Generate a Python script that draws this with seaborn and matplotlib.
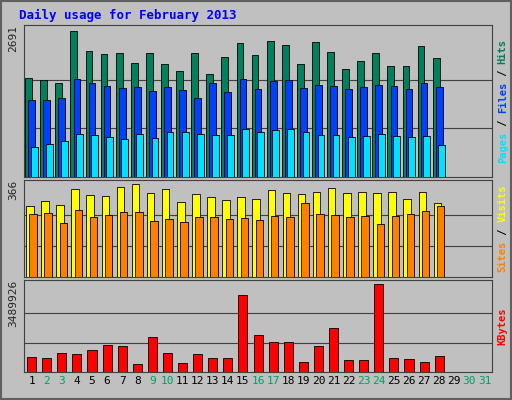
import matplotlib
matplotlib.use("Agg")
import matplotlib.pyplot as plt
import seaborn as sns
import numpy as np

sns.set_style("white")
plt.rcParams['font.family'] = ['DejaVu Sans Mono', 'DejaVu Sans']

days = list(range(1, 32))
data_days = list(range(1, 29))
weekend = [2, 3, 9, 10, 16, 17, 23, 24, 30, 31]
hits = [1825,1788,1731,2691,2315,2258,2277,2108,2277,2089,1957,2277,1901,2202,2465,2240,2503,2428,2089,2484,2296,1995,2127,2277,2051,2051,2409,2183]
files = [1412,1412,1449,1807,1731,1675,1637,1656,1581,1656,1600,1449,1731,1562,1807,1619,1769,1788,1637,1694,1675,1619,1656,1694,1675,1619,1731,1656]
pages = [546,602,659,790,772,734,696,790,715,828,828,790,772,772,885,828,866,885,828,772,772,734,753,790,753,734,753,583]
visits = [277,297,281,346,321,317,354,366,329,346,293,325,313,301,313,305,342,329,325,333,350,329,333,329,333,305,333,289]
sites = [248,252,211,264,236,244,256,256,220,228,216,236,236,228,232,224,240,236,289,248,244,236,240,207,240,248,260,277]
kbytes = [594870,555212,753502,713844,872476,1070766,1031108,317264,1388030,753502,356922,713844,555212,555212,3053666,1467346,1189740,1189740,396580,1031108,1744952,475896,475896,3489926,555212,515554,396580,634528]

BG = '#c0c0c0'
fig = plt.figure(figsize=(5.12, 4.0), dpi=100, facecolor=BG)
fig.add_artist(plt.Rectangle((0.002, 0.002), 0.996, 0.996, transform=fig.transFigure,
                             fill=False, edgecolor='#606060', lw=1.5))
fig.text(0.037, 0.962, "Daily usage for February 2013", color='#0000ff',
         fontsize=9, fontweight='bold', va='center')

panels = [
    (0.5575, 0.38, [(hits, '#00805c', -0.2), (files, '#0040ff', 0.0), (pages, '#00e0ff', 0.17)],
     max(hits), [("Pages", '#00e0ff'), ("Files", '#0040ff'), ("Hits", '#00805c')], 0.45),
    (0.3075, 0.2425, [(visits, '#ffff00', -0.12), (sites, '#ff8000', 0.1)],
     max(visits), [("Sites", '#ff8000'), ("Visits", '#ffff00')], 0.5),
    (0.07, 0.23, [(kbytes, '#ff0000', 0.0)], max(kbytes), [("KBytes", '#ff0000')], 0.6),
]
x = np.array(data_days, dtype=float)
axes = []
for bottom, h, series, mx, labels, w in panels:
    ax = fig.add_axes([0.047, bottom, 0.914, h])
    ax.set_facecolor(BG)
    for vals, col, off in series:
        ax.bar(x + off, vals, width=w, color=col, edgecolor='black', linewidth=0.6, zorder=3)
    ax.set_xlim(0.5, 31.5)
    ax.set_ylim(0, mx * 1.04)
    ax.set_yticks([mx / 3, 2 * mx / 3])
    ax.set_yticklabels([])
    ax.tick_params(length=0)
    ax.grid(axis='y', color='#404040', lw=0.8, zorder=0)
    ax.set_xticks([])
    for s in ax.spines.values():
        s.set_color('#404040')
    ax.text(-0.012, 1.0, f"{mx}", transform=ax.transAxes, rotation=90,
            ha='right', va='top', fontsize=8)
    parts = []
    for i, (t, c) in enumerate(labels):
        parts.append((t, c))
        if i < len(labels) - 1:
            parts.append((" / ", 'black'))
    n = sum(len(t) for t, _ in parts)
    pos = 0.5 - n * (6.2 / (h * 400)) / 2
    for t, c in parts:
        ax.text(1.012, pos, t, transform=ax.transAxes, rotation=90, color=c,
                ha='left', va='bottom', fontsize=7.5, fontweight='bold')
        pos += len(t) * 6.2 / (h * 400)
    axes.append(ax)

ax = axes[-1]
ax.set_xticks(days)
ax.set_xticklabels([str(d) for d in days], fontsize=8)
for lbl, d in zip(ax.get_xticklabels(), days):
    lbl.set_color('#00a060' if d in weekend else 'black')
ax.tick_params(axis='x', pad=3)

fig.savefig("out.png", dpi=100, facecolor=BG)
